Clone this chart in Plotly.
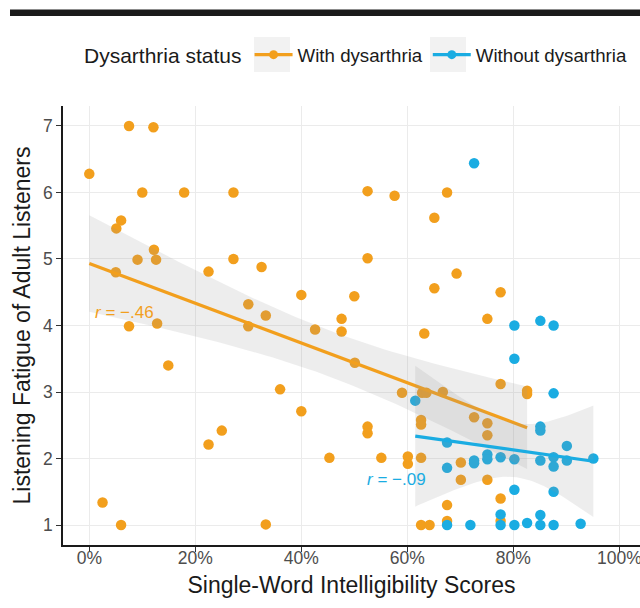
import numpy as np
import plotly.graph_objects as go

# ---------------- data ----------------
with_x = [0, 2.5, 5.0, 5.1, 6.0, 6.0, 7.5, 7.5, 9.1, 10.0, 12.1, 12.2, 12.6, 12.8, 14.9,
          17.9, 22.5, 22.5, 25.0, 27.2, 27.2, 30.0, 30.0, 32.5, 33.3, 33.3, 36.0, 40.0,
          40.0, 42.6, 45.3, 47.6, 47.6, 50.0, 50.1, 52.5, 52.5, 52.5, 52.5, 55.1, 57.6,
          59.0, 60.1, 60.1, 62.6, 62.6, 62.6, 62.6, 62.8, 63.2, 63.6, 64.2, 65.1, 65.1,
          66.7, 67.5, 67.5, 67.5, 69.3, 70.1, 70.1, 72.6, 75.1, 75.1, 75.1, 75.1, 77.6,
          77.6, 77.6, 77.6, 82.6, 82.6]
with_y = [6.28, 1.34, 4.80, 5.46, 5.58, 1.00, 7.00, 3.99, 4.99, 6.00, 6.98, 5.14, 4.99, 4.03, 3.40,
          6.00, 4.81, 2.21, 2.42, 6.00, 5.00, 4.32, 3.99, 4.88, 4.15, 1.01, 3.04, 4.46,
          2.71, 3.94, 2.01, 4.10, 3.91, 4.44, 3.44, 6.02, 5.01, 2.48, 2.38, 2.01, 5.95,
          2.99, 2.03, 1.92, 2.58, 2.51, 2.01, 1.00, 2.99, 3.88, 2.99, 1.00, 5.62, 4.56,
          3.00, 6.00, 1.30, 1.06, 4.78, 1.94, 1.68, 2.62, 4.10, 2.53, 2.35, 1.68, 4.50,
          3.12, 1.40, 1.06, 2.97, 3.02]

without_x = [61.5, 67.5, 67.5, 67.5, 71.9, 72.6, 72.6, 72.6, 75.1, 75.1, 77.6, 77.6, 77.6,
             80.2, 80.2, 80.2, 80.2, 80.2, 82.6, 85.1, 85.1, 85.1, 85.1, 85.1, 85.1, 87.6,
             87.6, 87.6, 87.6, 87.6, 87.6, 90.1, 90.1, 92.7, 95.1]
without_y = [2.87, 2.24, 1.86, 1.00, 1.00, 6.44, 1.97, 1.93, 2.06, 1.99, 2.02, 1.16, 1.00,
             4.00, 3.50, 1.99, 1.53, 1.00, 1.03, 4.07, 2.48, 2.42, 1.97, 1.15, 1.00, 4.00,
             2.98, 2.02, 1.88, 1.50, 1.00, 2.19, 1.97, 1.02, 2.00]

group_names = ["With dysarthria", "Without dysarthria"]
r_labels = ["<i>r</i> = \u2212.46", "<i>r</i> = \u2212.09"]
x_ticks = [0, 20, 40, 60, 80, 100]
y_ticks = [1, 2, 3, 4, 5, 6, 7]

ORANGE = "#F29F1D"
BLUE = "#1AACE2"
FONT = "Liberation Sans, Arial, sans-serif"

# plot-area geometry (pixels)
L, R, T, B = 63, 0, 106, 63
W, H = 640, 608
PW, PH = W - L - R, H - T - B


def px_x(p):
    return (p - L) / PW


def px_y(p):
    return (H - B - p) / PH


def lm_band(x, y, n_pts=80):
    x = np.asarray(x, float)
    y = np.asarray(y, float)
    n = len(x)
    b1, b0 = np.polyfit(x, y, 1)
    resid = y - (b0 + b1 * x)
    s = np.sqrt(np.sum(resid ** 2) / (n - 2))
    sxx = np.sum((x - x.mean()) ** 2)
    df = n - 2
    z = 1.959964
    t = z + (z ** 3 + z) / (4 * df) + (5 * z ** 5 + 16 * z ** 3 + 3 * z) / (96 * df ** 2)
    xs = np.linspace(x.min(), x.max(), n_pts)
    fit = b0 + b1 * xs
    se = s * np.sqrt(1 / n + (xs - x.mean()) ** 2 / sxx)
    return xs, fit, fit - t * se, fit + t * se


fig = go.Figure()

# points
fig.add_trace(go.Scatter(x=with_x, y=with_y, mode="markers", showlegend=False,
                         marker=dict(color=ORANGE, size=10.5, line=dict(width=0))))
fig.add_trace(go.Scatter(x=without_x, y=without_y, mode="markers", showlegend=False,
                         marker=dict(color=BLUE, size=10.5, line=dict(width=0))))

# smooths
for xs_, ys_, col in [(with_x, with_y, ORANGE), (without_x, without_y, BLUE)]:
    xs, fit, lo, hi = lm_band(xs_, ys_)
    fig.add_trace(go.Scatter(x=np.concatenate([xs, xs[::-1]]),
                             y=np.concatenate([hi, lo[::-1]]),
                             fill="toself", fillcolor="rgba(150,150,150,0.17)",
                             line=dict(width=0), mode="lines", showlegend=False,
                             hoverinfo="skip"))
    fig.add_trace(go.Scatter(x=xs, y=fit, mode="lines", showlegend=False,
                             line=dict(color=col, width=3.2)))

# legend entries
for name, col in zip(group_names, [ORANGE, BLUE]):
    fig.add_trace(go.Scatter(x=[None], y=[None], mode="lines+markers", name=name,
                             line=dict(color=col, width=3.2),
                             marker=dict(color=col, size=9)))

# grey legend key backgrounds
for k0, k1 in [(254, 290), (430, 466)]:
    fig.add_shape(type="rect", xref="paper", yref="paper", x0=px_x(k0), x1=px_x(k1),
                  y0=px_y(72), y1=px_y(37), fillcolor="#F2F2F2", line=dict(width=0),
                  layer="below")

# r annotations
fig.add_annotation(x=0.7, y=4.2, text=r_labels[0], showarrow=False, xanchor="left",
                   font=dict(family=FONT, size=17, color=ORANGE))
fig.add_annotation(x=52.0, y=1.68, text=r_labels[1], showarrow=False, xanchor="left",
                   font=dict(family=FONT, size=17, color=BLUE))

# top black bar
fig.add_shape(type="rect", xref="paper", yref="paper", x0=px_x(10), x1=px_x(645),
              y0=px_y(16), y1=px_y(9.5), fillcolor="#1a1a1a", line=dict(width=0),
              layer="above")

fig.update_layout(
    width=W, height=H,
    margin=dict(l=L, r=R, t=T, b=B, autoexpand=False),
    paper_bgcolor="white", plot_bgcolor="white",
    font=dict(family=FONT, color="#1a1a1a"),
    showlegend=True,
    legend=dict(orientation="h", x=px_x(82), y=px_y(55), xanchor="left", yanchor="middle",
                title=dict(text="Dysarthria status", side="left",
                           font=dict(family=FONT, size=21, color="#1a1a1a")),
                font=dict(family=FONT, size=18.7, color="#1a1a1a"),
                itemwidth=38, bgcolor="rgba(0,0,0,0)", tracegroupgap=0),
)
fig.update_xaxes(range=[-4.96, 103.9], tickvals=x_ticks, ticktext=[f"{v}%" for v in x_ticks],
                 automargin=False, ticklabeloverflow="allow", ticklabelstandoff=-9,
                 showgrid=True, gridcolor="#EBEBEB", gridwidth=1.3, zeroline=False,
                 showline=True, linecolor="#1a1a1a", linewidth=1.6,
                 ticks="outside", ticklen=5, tickcolor="#333333", tickwidth=1.3,
                 tickfont=dict(family=FONT, size=17.5, color="#4D4D4D"),
                 title=dict(text="Single-Word Intelligibility Scores", standoff=10,
                            font=dict(family=FONT, size=23, color="#1a1a1a")))
fig.update_yaxes(range=[0.7, 7.3], tickvals=y_ticks, automargin=False,
                 showgrid=True, gridcolor="#EBEBEB", gridwidth=1.3, zeroline=False,
                 showline=True, linecolor="#1a1a1a", linewidth=1.6,
                 ticks="outside", ticklen=5, tickcolor="#333333", tickwidth=1.3,
                 tickfont=dict(family=FONT, size=17.5, color="#4D4D4D"),
                 title=dict(text="Listening Fatigue of Adult Listeners", standoff=6,
                            font=dict(family=FONT, size=23, color="#1a1a1a")))

fig.write_html("out.html", config={"displayModeBar": False},
               post_script="document.body.style.margin='0';")
